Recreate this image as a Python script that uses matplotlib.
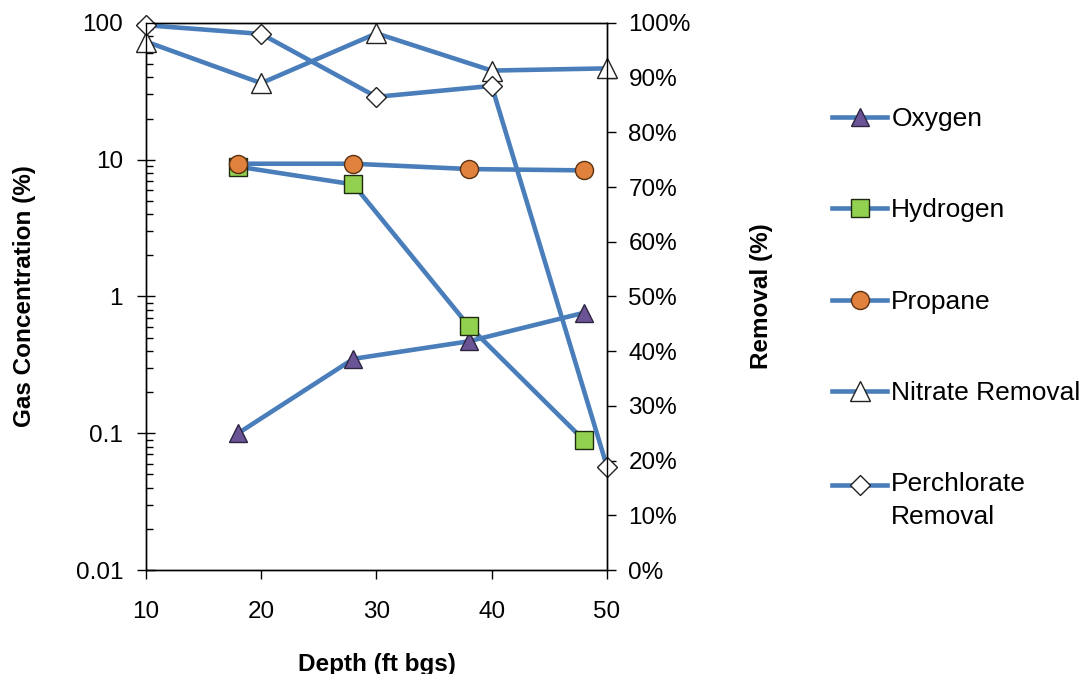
import matplotlib
matplotlib.use("Agg")
import matplotlib.pyplot as plt
from matplotlib.ticker import FixedLocator, NullFormatter, FixedFormatter
import numpy as np

plt.rcParams['font.family'] = ['Liberation Sans', 'DejaVu Sans']

# Depth of each sample (ft bgs)
depth_gas = [18, 28, 38, 48]
depth_removal = [10, 20, 30, 40, 50]

# Gas concentrations (%)
oxygen = [0.10, 0.35, 0.47, 0.76]
hydrogen = [8.9, 6.6, 0.61, 0.089]
propane = [9.35, 9.35, 8.55, 8.36]

# Removal (%)
nitrate_removal = [96.6, 89.0, 98.1, 91.3, 91.7]
perchlorate_removal = [99.6, 98.0, 86.5, 88.5, 18.9]

left_ticks = [0.01, 0.1, 1, 10, 100]
left_labels = ["0.01", "0.1", "1", "10", "100"]
x_ticks = [10, 20, 30, 40, 50]
right_ticks = list(range(0, 101, 10))
right_labels = [f"{v}%" for v in right_ticks]

line_color = "#4A7EBB"
lw = 3.3

fig = plt.figure(figsize=(10.86, 6.74), dpi=100)
ax = fig.add_axes([0.1344, 0.1543, 0.4245, 0.8116])
ax2 = ax.twinx()

h_o, = ax.plot(depth_gas, oxygen, color=line_color, lw=lw, marker='^', ms=13,
               mfc='#6A5495', mec='#2E2440', mew=1.0, label='Oxygen')
h_h, = ax.plot(depth_gas, hydrogen, color=line_color, lw=lw, marker='s', ms=12.5,
               mfc='#92D050', mec='#1E2A10', mew=1.0, label='Hydrogen')
h_p, = ax.plot(depth_gas, propane, color=line_color, lw=lw, marker='o', ms=13,
               mfc='#E0823D', mec='#5A3010', mew=1.0, label='Propane')
h_n, = ax2.plot(depth_removal, nitrate_removal, color=line_color, lw=lw, marker='^', ms=14,
                mfc='white', mec='#222222', mew=1.0, label='Nitrate Removal')
h_c, = ax2.plot(depth_removal, perchlorate_removal, color=line_color, lw=lw, marker='D', ms=10,
                mfc='white', mec='#222222', mew=1.0, label='Perchlorate\nRemoval')
for h in (h_o, h_h, h_p, h_n, h_c):
    h.set_clip_on(False)

ax.set_yscale('log')
ax.set_ylim(0.01, 100)
ax.set_xlim(10, 50)
ax2.set_ylim(0, 100)

ax.yaxis.set_major_locator(FixedLocator(left_ticks))
ax.yaxis.set_major_formatter(FixedFormatter(left_labels))
minor = [m * 10.0 ** e for e in range(-2, 2) for m in range(2, 10)]
ax.yaxis.set_minor_locator(FixedLocator(minor))
ax.yaxis.set_minor_formatter(NullFormatter())
ax.set_xticks(x_ticks)
ax.set_xticklabels([str(v) for v in x_ticks])
ax2.set_yticks(right_ticks)
ax2.set_yticklabels(right_labels)

tick_fs = 17.5
ax.tick_params(axis='y', which='major', direction='inout', length=13, width=1,
               labelsize=tick_fs, pad=10)
ax.tick_params(axis='y', which='minor', direction='in', length=5, width=1)
ax.tick_params(axis='x', which='major', direction='out', length=6.5, width=1,
               labelsize=tick_fs, pad=16)
ax2.tick_params(axis='y', which='major', direction='out', length=6.5, width=1,
                labelsize=tick_fs, pad=9)

for a in (ax, ax2):
    for s in a.spines.values():
        s.set_linewidth(1.0)
        s.set_color('black')

label_fs = 17.5
ax.set_xlabel("Depth (ft bgs)", fontsize=label_fs, fontweight='bold', va='center')
ax.xaxis.set_label_coords(0.5, -0.172)
ax.set_ylabel("Gas Concentration (%)", fontsize=label_fs, fontweight='bold',
              va='center')
ax.yaxis.set_label_coords(-0.264, 0.5)
ax2.set_ylabel("Removal (%)", fontsize=label_fs, fontweight='bold', rotation=90,
               va='center')
ax2.yaxis.set_label_coords(1.335, 0.5)

handles = [h_o, h_h, h_p, h_n, h_c]
leg = fig.legend(handles=handles, labels=[h.get_label() for h in handles],
                 loc='upper left', bbox_to_anchor=(0.766, 0.841), frameon=False,
                 fontsize=19, handlelength=2.1, handletextpad=0.15,
                 labelspacing=2.55, borderpad=0, borderaxespad=0)
leg.get_texts()[4].set_linespacing(1.43)
# put the two-line entry's key beside its first line
key = leg.legend_handles[4]
key.set_ydata(np.asarray(key.get_ydata(), dtype=float) + 11.5)

fig.savefig("out.png", dpi=100)
